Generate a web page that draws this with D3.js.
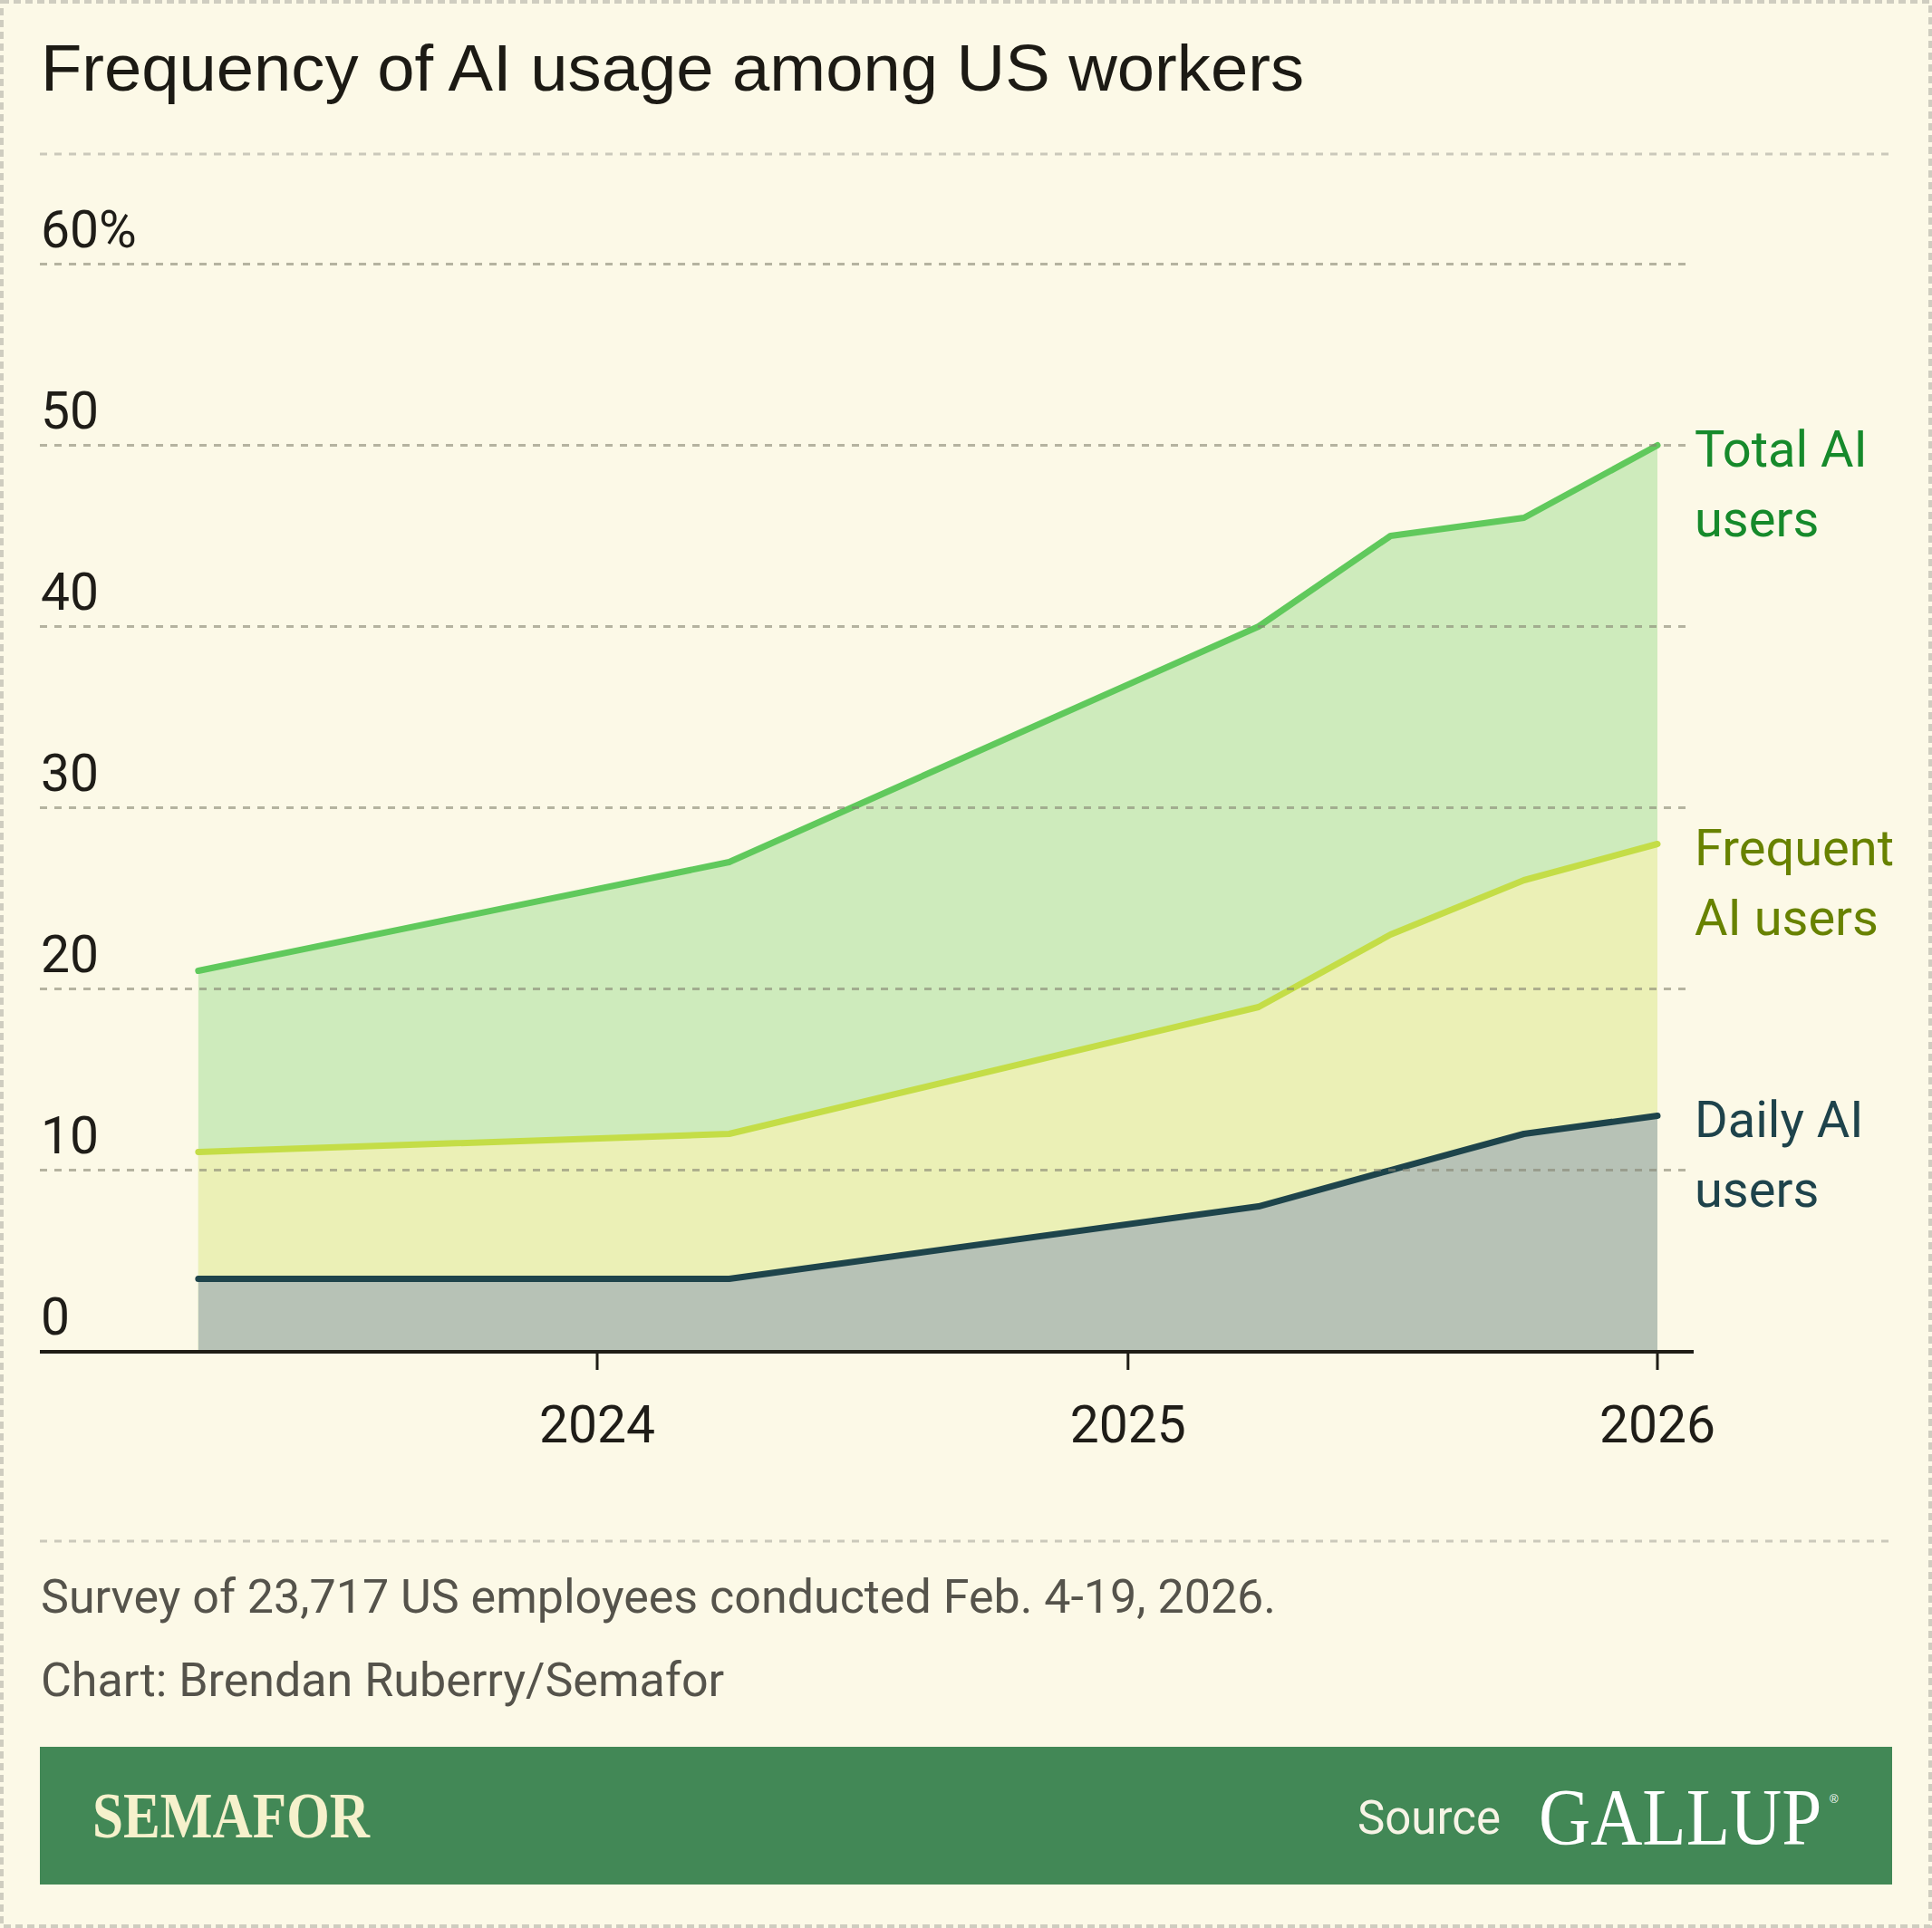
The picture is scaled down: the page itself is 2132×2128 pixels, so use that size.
<!DOCTYPE html>
<html>
<head>
<meta charset="utf-8">
<script src="https://cdn.jsdelivr.net/npm/d3@7"></script>
<style>
  html, body { margin: 0; padding: 0; background: #fcf9e7; }
  svg { display: block; }
  .sans { font-family: Roboto, "Noto Sans", sans-serif; }
</style>
</head>
<body>
<div id="chart"></div>
<script>
// survey waves (Gallup quarterly panel)
var surveyDates = ["2023-04-01", "2024-04-01", "2025-04-01", "2025-07-01", "2025-10-01", "2026-01-01"];
var totalUsers = [21, 27, 40, 45, 46, 50];
var frequentUsers = [11, 12, 19, 23, 26, 28];
var dailyUsers = [4, 4, 8, 10, 12, 13];

var yTicks = [0, 10, 20, 30, 40, 50, 60];
var yTickLabels = ["0", "10", "20", "30", "40", "50", "60%"];
var xTickYears = [2024, 2025, 2026];

var seriesNames = ["Total AI users", "Frequent AI users", "Daily AI users"];
var seriesLabelLines = [["Total AI", "users"], ["Frequent", "AI users"], ["Daily AI", "users"]];

var W = 2132, H = 2128;
var bg = "#fcf9e7";

var colors = {
  total: { line: "#60c95c", fill: "#ceebbc", text: "#168a2b" },
  frequent: { line: "#c4dd47", fill: "#ebf0b6", text: "#688200" },
  daily: { line: "#1e444b", fill: "#b7c2b6", text: "#1e434b" }
};

var parse = d3.timeParse("%Y-%m-%d");

var svg = d3.select("#chart").append("svg")
  .attr("width", W)
  .attr("height", H);

// page + dashed frame
svg.append("rect")
  .attr("x", 2).attr("y", 2)
  .attr("width", W - 4).attr("height", H - 4)
  .attr("fill", bg)
  .attr("stroke", "#cfcdc0")
  .attr("stroke-width", 4)
  .attr("stroke-dasharray", "8,5");

// title
svg.append("text")
  .attr("x", 45)
  .attr("y", 100)
  .attr("font-family", "'Liberation Sans', Arial, sans-serif")
  .attr("font-size", 73)
  .attr("textLength", 1394)
  .attr("lengthAdjust", "spacingAndGlyphs")
  .attr("fill", "#1c1a14")
  .text("Frequency of AI usage among US workers");

// separators
[170, 1701].forEach(function (yy) {
  svg.append("line")
    .attr("x1", 44).attr("x2", 2088)
    .attr("y1", yy).attr("y2", yy)
    .attr("stroke", "#cbc9bb")
    .attr("stroke-width", 3)
    .attr("stroke-dasharray", "8,8");
});

var x = d3.scaleTime()
  .domain([new Date(2024, 0, 1), new Date(2026, 0, 1)])
  .range([659, 1829]);

var y = d3.scaleLinear()
  .domain([0, 60])
  .range([1491.5, 291.5]);

function toPoints(values) {
  return values.map(function (v, i) {
    return { date: parse(surveyDates[i]), value: v };
  });
}

var series = [
  { key: "total", name: seriesNames[0], lines: seriesLabelLines[0], data: toPoints(totalUsers) },
  { key: "frequent", name: seriesNames[1], lines: seriesLabelLines[1], data: toPoints(frequentUsers) },
  { key: "daily", name: seriesNames[2], lines: seriesLabelLines[2], data: toPoints(dailyUsers) }
];

var area = d3.area()
  .x(function (d) { return x(d.date); })
  .y0(y(0))
  .y1(function (d) { return y(d.value); });

var line = d3.line()
  .x(function (d) { return x(d.date); })
  .y(function (d) { return y(d.value); });

var plot = svg.append("g");

// fills first, biggest at the back
plot.selectAll("path.area")
  .data(series)
  .enter().append("path")
  .attr("class", "area")
  .attr("d", function (s) { return area(s.data); })
  .attr("fill", function (s) { return colors[s.key].fill; });

// gridlines over the fills
var grid = svg.append("g");
grid.selectAll("line")
  .data(yTicks.filter(function (t) { return t > 0; }))
  .enter().append("line")
  .attr("x1", 44).attr("x2", 1860)
  .attr("y1", function (t) { return y(t); })
  .attr("y2", function (t) { return y(t); })
  .attr("stroke", "#858372")
  .attr("stroke-opacity", 0.6)
  .attr("stroke-width", 3)
  .attr("stroke-dasharray", "8,8");

grid.selectAll("text")
  .data(yTicks)
  .enter().append("text")
  .attr("class", "sans")
  .attr("x", 45)
  .attr("y", function (t) { return y(t) - 19; })
  .attr("font-size", 57)
  .attr("fill", "#1f1d18")
  .text(function (t, i) { return yTickLabels[i]; });

// lines on top
plot.selectAll("path.line")
  .data(series)
  .enter().append("path")
  .attr("class", "line")
  .attr("d", function (s) { return line(s.data); })
  .attr("fill", "none")
  .attr("stroke", function (s) { return colors[s.key].line; })
  .attr("stroke-width", 7)
  .attr("stroke-linecap", "round")
  .attr("stroke-linejoin", "round");

// x axis
var xAxis = svg.append("g");
xAxis.append("line")
  .attr("x1", 44).attr("x2", 1869)
  .attr("y1", 1492).attr("y2", 1492)
  .attr("stroke", "#1f1d16")
  .attr("stroke-width", 4);

var xTicks = xTickYears.map(function (yr) { return new Date(yr, 0, 1); });

xAxis.selectAll("line.tick")
  .data(xTicks)
  .enter().append("line")
  .attr("class", "tick")
  .attr("x1", function (d) { return x(d); })
  .attr("x2", function (d) { return x(d); })
  .attr("y1", 1492).attr("y2", 1512)
  .attr("stroke", "#1f1d16")
  .attr("stroke-width", 3);

xAxis.selectAll("text")
  .data(xTicks)
  .enter().append("text")
  .attr("class", "sans")
  .attr("x", function (d) { return x(d); })
  .attr("y", 1592)
  .attr("text-anchor", "middle")
  .attr("font-size", 57)
  .attr("fill", "#1f1d18")
  .text(d3.timeFormat("%Y"));

// end labels
var labels = svg.append("g");
series.forEach(function (s) {
  var last = s.data[s.data.length - 1];
  var t = labels.append("text")
    .attr("class", "sans")
    .attr("x", 1870)
    .attr("y", y(last.value) + 23)
    .attr("font-size", 56)
    .attr("fill", colors[s.key].text);
  s.lines.forEach(function (ln, i) {
    t.append("tspan")
      .attr("x", 1870)
      .attr("dy", i === 0 ? 0 : 77)
      .text(ln);
  });
});

// notes
var notes = ["Survey of 23,717 US employees conducted Feb. 4-19, 2026.", "Chart: Brendan Ruberry/Semafor"];
svg.selectAll("text.note")
  .data(notes)
  .enter().append("text")
  .attr("class", "note sans")
  .attr("x", 45)
  .attr("y", function (d, i) { return 1780 + i * 92; })
  .attr("font-size", 52)
  .attr("fill", "#55534b")
  .text(function (d) { return d; });

// footer band
var footer = svg.append("g");
footer.append("rect")
  .attr("x", 44).attr("y", 1928)
  .attr("width", 2044).attr("height", 152)
  .attr("fill", "#428856");

footer.append("text")
  .attr("x", 102)
  .attr("y", 2028)
  .attr("font-family", "'Liberation Serif', 'Times New Roman', serif")
  .attr("font-weight", "bold")
  .attr("font-size", 72)
  .attr("textLength", 306)
  .attr("lengthAdjust", "spacingAndGlyphs")
  .attr("fill", "#f6f1cc")
  .text("SEMAFOR");

footer.append("text")
  .attr("class", "sans")
  .attr("x", 1498)
  .attr("y", 2024)
  .attr("font-size", 51)
  .attr("fill", "#f7f4e6")
  .text("Source");

// logo word squeezed horizontally, so its box stays its real width
footer.append("g")
  .attr("transform", "translate(1698 2035) scale(0.9 1)")
  .append("text")
  .attr("x", 0)
  .attr("y", 0)
  .attr("font-family", "'Liberation Serif', 'Times New Roman', serif")
  .attr("font-size", 88)
  .attr("fill", "#ffffff")
  .text("GALLUP");

footer.append("text")
  .attr("x", 2019)
  .attr("y", 1990)
  .attr("font-family", "'Liberation Sans', Arial, sans-serif")
  .attr("font-size", 13)
  .attr("fill", "#ffffff")
  .text("®");
</script>
</body>
</html>
